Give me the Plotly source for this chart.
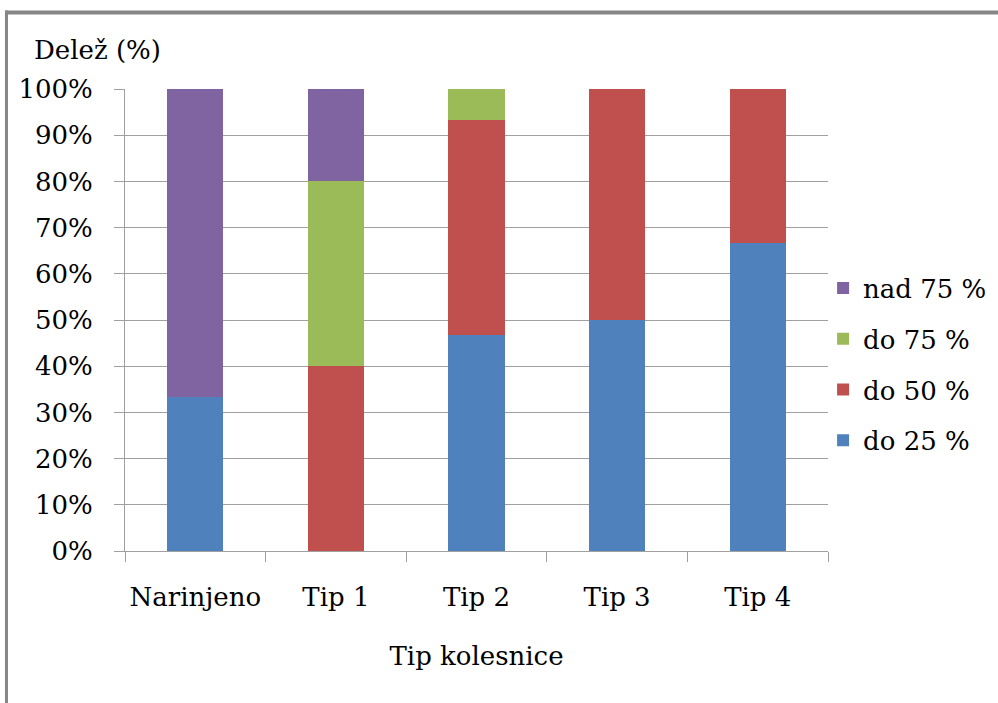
import plotly.graph_objects as go

# Categories and stacked shares (percent of cases per wheel type)
categories = ["Narinjeno", "Tip 1", "Tip 2", "Tip 3", "Tip 4"]
do_25 = [33.33, 0.0, 46.67, 50.0, 66.67]
do_50 = [0.0, 40.0, 46.67, 50.0, 33.33]
do_75 = [0.0, 40.0, 6.67, 0.0, 0.0]
nad_75 = [66.67, 20.0, 0.0, 0.0, 0.0]
y_ticks = list(range(0, 101, 10))
y_tick_labels = [f"{v}%" for v in y_ticks]

# (name, values, colour, legend rank) — stacked bottom to top, listed top to bottom
series = [
    ("do 25 %", do_25, "#4F81BD", 4),
    ("do 50 %", do_50, "#C0504D", 3),
    ("do 75 %", do_75, "#9BBB59", 2),
    ("nad 75 %", nad_75, "#8064A2", 1),
]

FONT = "DejaVu Serif"
SIZE = 26
GRID = "#A0A0A0"

fig = go.Figure()
for name, vals, color, rank in series:
    fig.add_trace(go.Bar(
        x=categories, y=vals, name=name, legendgroup=name, legendrank=rank,
        marker=dict(color=color, line=dict(width=0)),
        hoverinfo="x+y+name",
    ))

fig.update_layout(
    width=998, height=703,
    barmode="stack", bargap=0.6,
    paper_bgcolor="white", plot_bgcolor="white",
    margin=dict(l=125, r=170, t=89, b=152, autoexpand=False),
    font=dict(family=FONT, size=SIZE, color="black"),
    showlegend=True,
    legend=dict(
        traceorder="grouped", tracegroupgap=14,
        x=0.993, xanchor="left", y=0.4037, yanchor="middle",
        font=dict(family=FONT, size=SIZE, color="black"),
        itemwidth=30, bgcolor="rgba(0,0,0,0)",
    ),
    xaxis=dict(
        type="category", tickson="boundaries", ticks="outside", ticklen=10,
        tickcolor=GRID, showline=True, linecolor=GRID, linewidth=1,
        showgrid=False, ticklabelstandoff=23, tickangle=0,
        tickfont=dict(family=FONT, size=SIZE),
        title=dict(text="Tip kolesnice", standoff=35,
                   font=dict(family=FONT, size=SIZE)),
        automargin=False,
    ),
    yaxis=dict(
        range=[0, 100], tickmode="array",
        tickvals=y_ticks, ticktext=y_tick_labels,
        ticks="outside", ticklen=10, tickcolor=GRID,
        showline=True, linecolor=GRID, linewidth=1,
        showgrid=True, gridcolor=GRID, gridwidth=1,
        zeroline=False, ticklabelstandoff=16,
        tickfont=dict(family=FONT, size=SIZE),
        automargin=False,
    ),
    annotations=[dict(
        text="Delež (%)", xref="paper", yref="paper",
        x=-0.1323, y=1.0844, xanchor="left", yanchor="middle",
        showarrow=False, font=dict(family=FONT, size=SIZE, color="black"),
    )],
    shapes=[
        # frame edges (top and left)
        dict(type="line", xref="paper", yref="paper",
             x0=-0.1707, x1=1.25, y0=1.1656, y1=1.1656,
             line=dict(color="#868686", width=4)),
        dict(type="line", xref="paper", yref="paper",
             x0=-0.1686, x1=-0.1686, y0=1.17, y1=-0.34,
             line=dict(color="#868686", width=3)),
    ],
)

fig.write_html("out.html")
